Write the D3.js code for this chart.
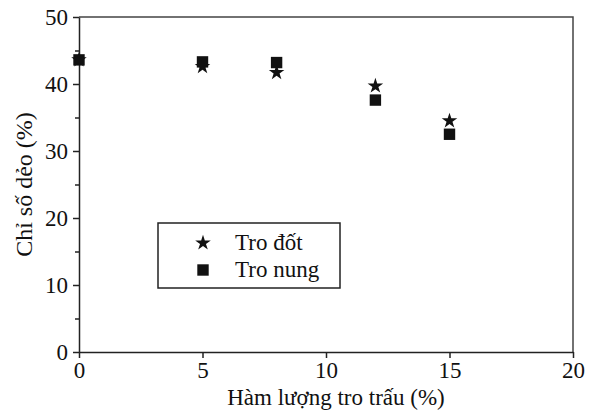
<!DOCTYPE html>
<html>
<head>
<meta charset="utf-8">
<script src="https://cdn.jsdelivr.net/npm/d3@7"></script>
<style>
  body { margin: 0; background: #fff; }
  text { font-family: "Liberation Serif", "DejaVu Serif", serif; fill: #111; }
</style>
</head>
<body>
<div id="chart"></div>
<script>
// Data
const ashContent = [0, 5, 8, 12, 15];
const troDot = [43.6, 42.6, 41.7, 39.7, 34.5];
const troNung = [43.6, 43.3, 43.2, 37.6, 32.5];
const xTicks = [0, 5, 10, 15, 20];
const yTicks = [0, 10, 20, 30, 40, 50];
const yMinorTicks = [5, 15, 25, 35, 45];
const seriesNames = ["Tro đốt", "Tro nung"];

const width = 590, height = 414;
const margin = {top: 17, right: 17, bottom: 62, left: 79};
const innerW = width - margin.left - margin.right;
const innerH = height - margin.top - margin.bottom;
const fontSize = 23;

const svg = d3.select("#chart").append("svg")
    .attr("width", width)
    .attr("height", height);

const g = svg.append("g")
    .attr("transform", "translate(" + margin.left + "," + margin.top + ")");

const xScale = d3.scaleLinear().domain([0, 20]).range([0, innerW]);
const yScale = d3.scaleLinear().domain([0, 50]).range([innerH, 0]);

// cadre (haut et droite)
g.append("path")
    .attr("d", "M0,0H" + innerW + "V" + innerH)
    .attr("fill", "none")
    .attr("stroke", "#444")
    .attr("stroke-width", 1.5);

// axe x
g.append("g")
    .attr("transform", "translate(0," + innerH + ")")
    .call(d3.axisBottom(xScale).tickValues(xTicks).tickSize(6).tickPadding(4).tickSizeOuter(0));

// axe y
g.append("g")
    .call(d3.axisLeft(yScale).tickValues(yTicks).tickSize(6).tickPadding(5).tickSizeOuter(0));
g.append("g")
    .call(d3.axisLeft(yScale).tickValues(yMinorTicks).tickSize(4).tickFormat(""))
    .select(".domain").remove();

svg.selectAll(".domain").attr("stroke", "#222").attr("stroke-width", 1.5);
svg.selectAll(".tick line").attr("stroke", "#222").attr("stroke-width", 1.5);
svg.selectAll(".tick text")
    .attr("font-size", fontSize)
    .attr("font-family", "Liberation Serif, serif")
    .attr("fill", "#111");

// titres des axes
svg.append("text")
    .attr("x", margin.left + innerW / 2 + 10)
    .attr("y", 405)
    .attr("text-anchor", "middle")
    .attr("font-size", fontSize)
    .text("Hàm lượng tro trấu (%)");

svg.append("text")
    .attr("transform", "translate(32," + (margin.top + innerH / 2) + ") rotate(-90)")
    .attr("text-anchor", "middle")
    .attr("font-size", 24)
    .text("Chỉ số dẻo (%)");

// points
const star = d3.symbol().type(d3.symbolStar).size(75);
const square = d3.symbol().type(d3.symbolSquare).size(130);

g.selectAll(".sq")
    .data(ashContent.map((x, i) => ({x: x, y: troNung[i]})))
    .join("path")
    .attr("class", "sq")
    .attr("d", square)
    .attr("fill", "#111")
    .attr("transform", d => "translate(" + xScale(d.x) + "," + yScale(d.y) + ")");

g.selectAll(".st")
    .data(ashContent.map((x, i) => ({x: x, y: troDot[i]})))
    .join("path")
    .attr("class", "st")
    .attr("d", star)
    .attr("fill", "#111")
    .attr("transform", d => "translate(" + xScale(d.x) + "," + yScale(d.y) + ")");

// légende
const legend = svg.append("g").attr("transform", "translate(158,223)");
legend.append("rect")
    .attr("width", 182).attr("height", 65)
    .attr("fill", "none").attr("stroke", "#222").attr("stroke-width", 1.5);
const symbols = [star, square];
seriesNames.forEach((name, i) => {
    const row = legend.append("g").attr("transform", "translate(0," + (20 + i * 27) + ")");
    row.append("path")
        .attr("d", symbols[i])
        .attr("fill", "#111")
        .attr("transform", "translate(45,0)");
    row.append("text")
        .attr("x", 77)
        .attr("y", 7)
        .attr("font-size", fontSize)
        .text(name);
});
</script>
</body>
</html>
